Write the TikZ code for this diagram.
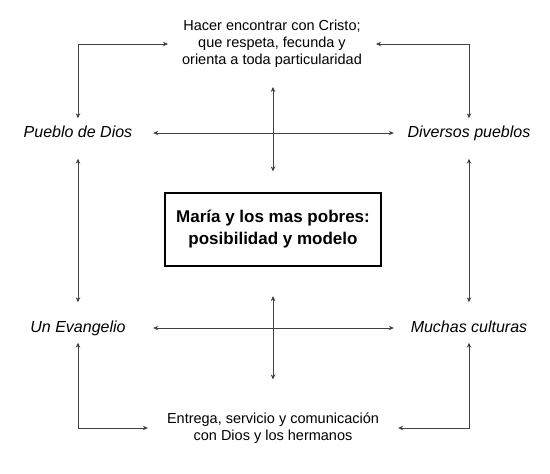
\documentclass[tikz,border=0pt]{standalone}
\usepackage{fontspec}
\setmainfont{Liberation Sans}
\usetikzlibrary{arrows.meta}
\begin{document}
\begin{tikzpicture}[x=1pt, y=-1pt, >={Stealth[length=5pt,width=4.5pt]},
    link/.style={draw=black!75, line width=0.7pt},
    side/.style={font=\fontsize{16}{19}\selectfont\itshape, minimum width=150pt,
      inner xsep=0pt, inner ysep=7pt, text height=11.5pt, text depth=3.5pt},
    note/.style={font=\fontsize{14.5}{17}\selectfont, align=center, inner ysep=0pt}]
    \useasboundingbox (0,0) rectangle (550,474);
    % the four corners
    \node[note, inner xsep=14pt] (hacer) at (272,44) {Hacer encontrar con Cristo;\\que respeta, fecunda y\\orienta a toda particularidad};
    \node[side] (pueblo) at (78,133) {Pueblo de Dios};
    \node[side] (diversos) at (469,133) {Diversos pueblos};
    \node[side] (evangelio) at (78,328) {Un Evangelio};
    \node[side] (muchas) at (469,328) {Muchas culturas};
    \node[note, inner xsep=19pt] (entrega) at (273,428) {Entrega, servicio y comunicación\\con Dios y los hermanos};
    % centre box
    \node[draw, line width=1.2pt, minimum width=216pt, minimum height=73pt, align=center,
      font=\fontsize{17}{22}\selectfont\bfseries] (maria) at (273,229.5) {María y los mas pobres:\\posibilidad y modelo};
    \draw[link, <->] (hacer.west) -| (pueblo.north);
    \draw[link, <->] (hacer.east) -| (diversos.north);
    \draw[link, <->] (pueblo.east) -- (diversos.west);
    \draw[link, <->, shorten <=11pt, shorten >=11pt] (pueblo.south) -- (evangelio.north);
    \draw[link, <->, shorten <=11pt, shorten >=11pt] (diversos.south) -- (muchas.north);
    \draw[link, <->] (evangelio.east) -- (muchas.west);
    \draw[link, <->] (entrega.west) -| (evangelio.south);
    \draw[link, <->] (entrega.east) -| (muchas.south);
    \draw[link, <->, shorten <=19pt, shorten >=21pt] (maria.north |- hacer.south) -- (maria.north);
    \draw[link, <->, shorten <=29.5pt, shorten >=33pt] (maria.south) -- (maria.south |- entrega.north);
\end{tikzpicture}
\end{document}
